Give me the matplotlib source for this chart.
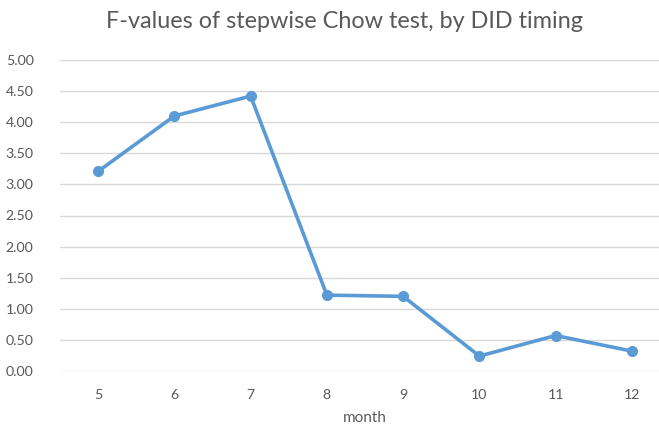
import matplotlib
matplotlib.use("Agg")
import matplotlib.pyplot as plt

months = ["5", "6", "7", "8", "9", "10", "11", "12"]
f_values = [3.21, 4.10, 4.42, 1.22, 1.20, 0.24, 0.57, 0.32]
y_ticks = [0.0, 0.5, 1.0, 1.5, 2.0, 2.5, 3.0, 3.5, 4.0, 4.5, 5.0]
title = "F-values of stepwise Chow test, by DID timing"
xlabel = "month"

plt.rcParams['font.family'] = ['Lato', 'DejaVu Sans']
W, H = 659, 425
fig = plt.figure(figsize=(W/100, H/100), dpi=100)
left, right, bottom, top = 60.0, 670, 371, 60
ax = fig.add_axes([left/W, (H-bottom)/H, (right-left)/W, (bottom-top)/H])

x = list(range(len(months)))
ax.plot(x, f_values, color="#5B9BD5", lw=2.6, marker="o", ms=7, clip_on=False, zorder=3)
ax.set_xlim(-0.5, len(months)-0.5)
ax.set_ylim(0, 5)
ax.set_yticks(y_ticks)
ax.set_yticklabels([f"{v:.2f}" for v in y_ticks])
ax.set_xticks(x)
ax.set_xticklabels(months)
ax.grid(axis="y", color="#D9D9D9", lw=1)
ax.set_axisbelow(True)
for s in ax.spines.values():
    s.set_visible(False)
ax.tick_params(length=0, colors="#595959", labelsize=10.2)
ax.tick_params(axis="y", pad=19)
ax.tick_params(axis="x", pad=13)
ax.set_xlabel(xlabel, color="#595959", fontsize=11, labelpad=7)
fig.text(345/W, 1-22/H, title, ha="center", va="center", fontsize=16.8, color="#595959")
fig.savefig("out.png", dpi=100)
